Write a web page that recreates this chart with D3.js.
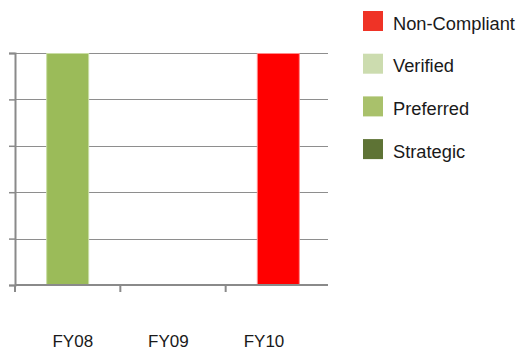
<!DOCTYPE html>
<html>
<head>
<meta charset="utf-8">
<script src="https://cdn.jsdelivr.net/npm/d3@7"></script>
<style>
html,body{margin:0;padding:0;background:#fff;}
svg{display:block;font-family:"Liberation Sans",Helvetica,Arial,sans-serif;}
</style>
</head>
<body>
<svg id="chart" width="524" height="350"></svg>
<script>
// ---- data ----
const categories = ["FY08", "FY09", "FY10"];
const seriesNames = ["Strategic", "Preferred", "Verified", "Non-Compliant"];
const strategic    = [0, 0, 0];
const preferred    = [100, 0, 0];
const verified     = [0, 0, 0];
const nonCompliant = [0, 0, 100];
const yTicks = [0, 20, 40, 60, 80, 100];
const legendOrder = ["Non-Compliant", "Verified", "Preferred", "Strategic"];

// ---- styles ----
const barFill   = {"Strategic":"#5F7436","Preferred":"#9BBB59","Verified":"#CDDCB0","Non-Compliant":"#FF0000"};
const barStroke = {"Strategic":"#8a9c66","Preferred":"#C9DDA4","Verified":"#e3ecd2","Non-Compliant":"#FF8A8A"};
const legendFill= {"Strategic":"#5E7335","Preferred":"#A9C16B","Verified":"#CCDCAF","Non-Compliant":"#EF3326"};

const rows = categories.map((c, i) => ({
  cat: c,
  "Strategic": strategic[i],
  "Preferred": preferred[i],
  "Verified": verified[i],
  "Non-Compliant": nonCompliant[i]
}));

const svg = d3.select("#chart");
const plot = {left: 15, right: 331, gridRight: 328, top: 53, bottom: 285};

const x = d3.scaleBand().domain(categories).range([plot.left, plot.right]).paddingInner(0).paddingOuter(0);
const y = d3.scaleLinear().domain([0, 100]).range([plot.bottom, plot.top]);
// category labels sit on their own spacing in the original
const xLabel = d3.scalePoint().domain(categories).range([72.8, 264]);

// gridlines
svg.append("g").selectAll("line").data(yTicks.filter(t => t > 0)).join("line")
  .attr("x1", plot.left).attr("x2", plot.gridRight)
  .attr("y1", d => Math.round(y(d)) + 0.5).attr("y2", d => Math.round(y(d)) + 0.5)
  .attr("stroke", "#8e8e8e").attr("stroke-width", 1.2);

// y axis (ticks only, no labels)
const yAxis = d3.axisLeft(y).tickValues(yTicks).tickSize(6).tickFormat("");
const gy = svg.append("g").attr("transform", `translate(${plot.left},0)`).call(yAxis);
gy.select(".domain").attr("stroke", "#8a8a8a").attr("stroke-width", 2);
gy.selectAll(".tick line").attr("stroke", "#8a8a8a").attr("stroke-width", 1.5);

// stacked bars
const stack = d3.stack().keys(seriesNames)(rows);
const barW = 43;
svg.append("g").selectAll("g").data(stack).join("g")
  .attr("fill", d => barFill[d.key]).attr("stroke", d => barStroke[d.key])
  .selectAll("rect").data(d => d.filter(s => s[1] - s[0] > 0)).join("rect")
  .attr("x", d => x(d.data.cat) + x.bandwidth() / 2 - barW / 2 + 0.5)
  .attr("width", barW - 1)
  .attr("y", d => y(d[1]) + 0.5)
  .attr("height", d => y(d[0]) - y(d[1]) - 1)
  .attr("stroke-width", 1);

// x axis
const gx = svg.append("g").attr("transform", `translate(0,${plot.bottom})`);
gx.append("path").attr("d", `M${plot.left},0H${plot.gridRight}`)
  .attr("stroke", "#8a8a8a").attr("stroke-width", 2).attr("fill", "none");
const bTicks = [plot.left].concat(categories.slice(1).map(c => x(c)));
gx.selectAll("line.bt").data(bTicks).join("line").attr("class", "bt")
  .attr("x1", d => d).attr("x2", d => d).attr("y1", 0).attr("y2", 7)
  .attr("stroke", "#8a8a8a").attr("stroke-width", 2);

// category labels
svg.append("g").selectAll("text").data(categories).join("text")
  .attr("x", d => xLabel(d)).attr("y", 347)
  .attr("text-anchor", "middle").attr("font-size", 17).attr("fill", "#1a1a1a")
  .text(d => d);

// legend
const lg = svg.append("g").selectAll("g").data(legendOrder).join("g")
  .attr("transform", (d, i) => `translate(363,${11 + i * 42.7})`);
lg.append("rect").attr("width", 20).attr("height", 20).attr("fill", d => legendFill[d]);
lg.append("text").attr("x", 30).attr("y", 18.5).attr("font-size", 18.3).attr("fill", "#1a1a1a").text(d => d);
</script>
</body>
</html>
